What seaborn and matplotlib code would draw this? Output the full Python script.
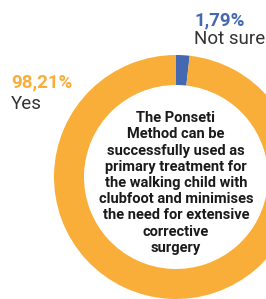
import matplotlib
matplotlib.use("Agg")
import matplotlib.pyplot as plt
import seaborn as sns

sns.set_theme(style="white")
plt.rcParams['font.family'] = ['Roboto', 'DejaVu Sans']

answers = ["Not sure", "Yes"]
shares = [1.79, 98.21]
pct_labels = ["1,79%", "98,21%"]
colors = ["#4569B1", "#F9AE3A"]
question = ("The Ponseti\nMethod can be\nsuccessfully used as\nprimary treatment for\n"
            "the walking child with\nclubfoot and minimises\nthe need for extensive\n"
            "corrective\nsurgery")

fig = plt.figure(figsize=(2.66, 2.99), dpi=100)
ax = fig.add_axes([0, 0, 1, 1])

ax.pie(shares, colors=colors, startangle=90, counterclock=False,
       center=(176, 122), radius=122,
       wedgeprops=dict(width=30, edgecolor="none"))
ax.set_xlim(0, 266)
ax.set_ylim(0, 299)
ax.set_aspect("equal")
ax.axis("off")

# left label (Yes)
ax.text(11, 299 - 73, pct_labels[1], color=colors[1], fontsize=13.5, fontweight="bold",
        ha="left", va="top")
ax.text(11, 299 - 95, answers[1], color="#333333", fontsize=13.5,
        ha="left", va="top")
# top-right label (Not sure)
ax.text(194, 299 - 11, pct_labels[0], color=colors[0], fontsize=13.5, fontweight="bold",
        ha="left", va="top")
ax.text(194, 299 - 30, answers[0], color="#333333", fontsize=13.5,
        ha="left", va="top")

ax.text(176, 299 - 183, question, color="#1a1a1a", fontsize=10.5, fontweight="bold",
        ha="center", va="center", linespacing=1.2)

fig.savefig("out.png", dpi=100)
